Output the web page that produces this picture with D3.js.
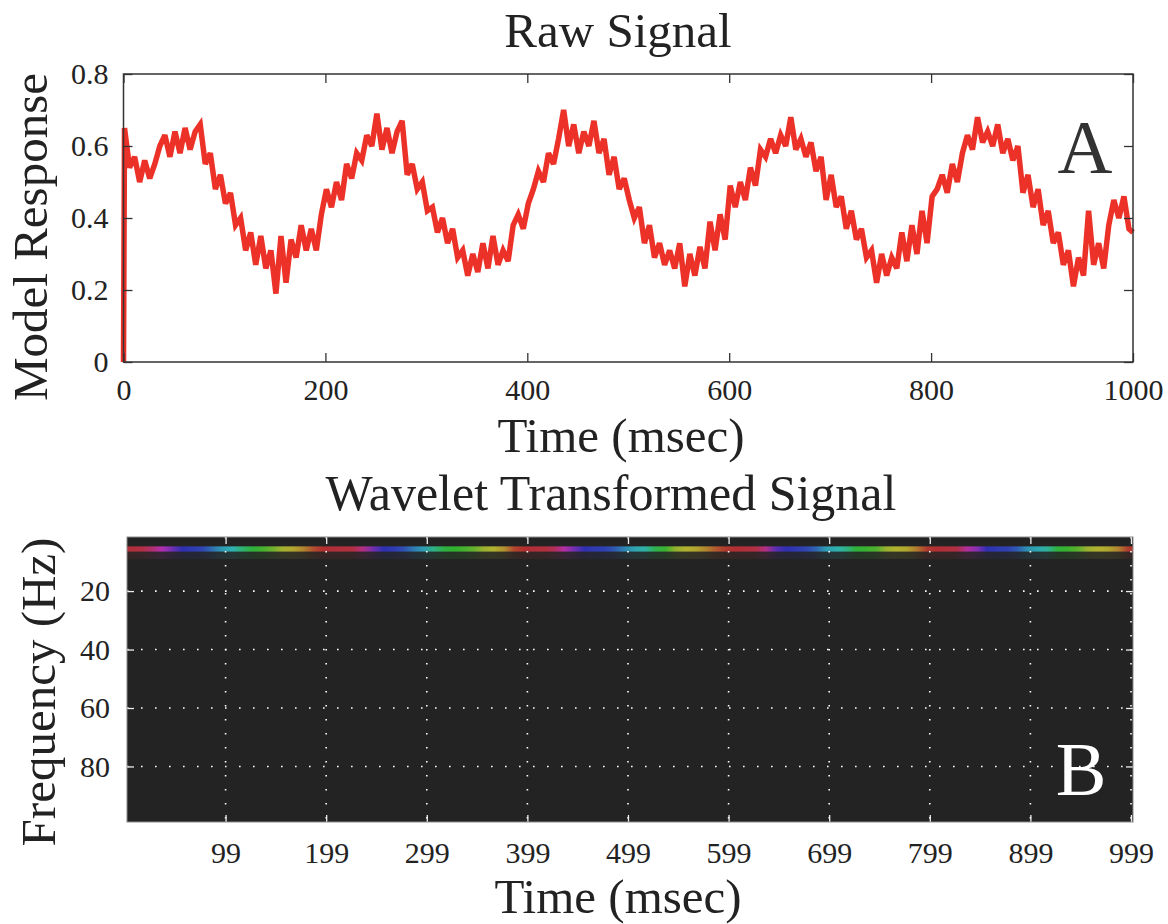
<!DOCTYPE html>
<html>
<head>
<meta charset="utf-8">
<script src="https://cdn.jsdelivr.net/npm/d3@7"></script>
<style>
  html, body { margin: 0; background: #fff; overflow: hidden; }
  svg { display: block; }
  text { font-family: "Liberation Serif", "Times New Roman", serif; fill: #222; }
</style>
</head>
<body>
<div class="chart"></div>
<script>
// tick labels
const rawTicksX = [0, 200, 400, 600, 800, 1000]
const rawTicksY = [0, 0.2, 0.4, 0.6, 0.8]
const waveTicksX = [99, 199, 299, 399, 499, 599, 699, 799, 899, 999]
const waveTicksY = [20, 40, 60, 80]

// raw signal: first point t=0, then every 5 ms from t=1, last t=1000
const responseStart = 0
const responseValues = [
  0.65,0.54,0.57,0.50,0.56,0.51,0.55,0.60,0.63,0.57,0.64,0.58,0.65,0.59,0.64,0.66,0.55,0.58,0.48,0.52,
  0.44,0.47,0.38,0.40,0.31,0.36,0.27,0.35,0.26,0.31,0.19,0.35,0.22,0.34,0.29,0.38,0.31,0.37,0.31,0.41,
  0.48,0.43,0.50,0.45,0.55,0.51,0.58,0.56,0.63,0.60,0.69,0.59,0.65,0.58,0.64,0.67,0.52,0.55,0.48,0.50,
  0.42,0.43,0.36,0.40,0.33,0.37,0.29,0.31,0.24,0.30,0.25,0.33,0.26,0.35,0.27,0.31,0.28,0.38,0.41,0.37,
  0.44,0.48,0.53,0.50,0.58,0.55,0.62,0.70,0.60,0.66,0.58,0.64,0.60,0.67,0.58,0.62,0.52,0.57,0.48,0.51,
  0.45,0.40,0.43,0.33,0.38,0.29,0.33,0.27,0.31,0.26,0.33,0.21,0.30,0.24,0.32,0.26,0.39,0.31,0.41,0.34,
  0.49,0.43,0.50,0.45,0.54,0.49,0.59,0.57,0.62,0.58,0.63,0.60,0.68,0.59,0.62,0.57,0.61,0.53,0.57,0.45,
  0.52,0.43,0.46,0.37,0.42,0.34,0.37,0.29,0.31,0.22,0.30,0.24,0.29,0.26,0.36,0.28,0.38,0.30,0.42,0.33,
  0.46,0.48,0.52,0.47,0.55,0.50,0.58,0.63,0.59,0.68,0.61,0.64,0.60,0.66,0.58,0.62,0.56,0.60,0.47,0.52,
  0.43,0.48,0.38,0.42,0.33,0.36,0.27,0.31,0.21,0.29,0.24,0.42,0.27,0.33,0.26,0.38,0.45,0.40,0.46,0.37
]
const responseEnd = 0.36

// wavelet band at ~5 Hz: hue of the phase colour per 10 ms bin (bins start at t=1)
const bandFreqHz = 5
const phaseHue = [
  355,350,330,300,270,240,235,230,210,190,180,150,125,110, 90, 65, 55, 40, 15,360,
  355,355,350,320,270,240,235,225,205,190,160,130,120,110, 95, 70, 60, 45, 10,360,
  355,355,340,305,270,240,235,232,220,200,185,175,135,115, 75, 60, 55, 40, 20,  5,
  358,355,350,320,260,240,235,230,215,190,180,160,125,115,105, 70, 60, 55, 35,  5,
  358,355,350,310,280,240,235,232,220,195,185,170,125,115,100, 70, 60, 55, 40,  5
]

const width = 1168
const height = 924

const svg = d3.select('.chart').append('svg')
    .attr('width', width)
    .attr('height', height)

svg.append('rect')
    .attr('width', width)
    .attr('height', height)
    .attr('fill', '#fff')

// ---------- A: raw signal ----------
const x = d3.scaleLinear().domain([0, 1000]).range([123.5, 1133])
const y = d3.scaleLinear().domain([0, 0.8]).range([362, 74])

const times = [0].concat(d3.range(1, 1000, 5), [1000])
const values = [responseStart].concat(responseValues, [responseEnd])
const signal = times.map((t, i) => ({t: t, v: values[i]}))

const gA = svg.append('g')

gA.append('path')
    .datum(signal)
    .attr('fill', 'none')
    .attr('stroke', '#ec3228')
    .attr('stroke-width', 5.5)
    .attr('stroke-linejoin', 'miter')
    .attr('stroke-miterlimit', 3)
    .attr('d', d3.line().x(d => x(d.t)).y(d => y(d.v)))

function styleAxis(g, color, size) {
    g.attr('font-family', null)
    g.select('.domain').remove()
    g.selectAll('line').attr('stroke', color).attr('stroke-width', 1.3)
    g.selectAll('text').attr('font-size', size).attr('fill', '#222')
        .style('font-family', '"Liberation Serif", serif')
}

// frame ticks without labels: drop the empty text nodes
function ticksOnly(g, color) {
    styleAxis(g, color, 30)
    g.selectAll('text').remove()
}

gA.append('g')
    .attr('transform', 'translate(0,362)')
    .call(d3.axisBottom(x).tickValues(rawTicksX).tickFormat(d => String(d))
        .tickSizeInner(-9).tickSizeOuter(0).tickPadding(17))
    .call(g => styleAxis(g, '#333', 30))
gA.append('g')
    .attr('transform', 'translate(0,74)')
    .call(d3.axisTop(x).tickValues(rawTicksX).tickSizeInner(-9).tickSizeOuter(0))
    .call(g => ticksOnly(g, '#333'))
gA.append('g')
    .attr('transform', 'translate(123.5,0)')
    .call(d3.axisLeft(y).tickValues(rawTicksY).tickFormat(d => String(d))
        .tickSizeInner(-9).tickSizeOuter(0).tickPadding(15))
    .call(g => styleAxis(g, '#333', 30))
gA.append('g')
    .attr('transform', 'translate(1133,0)')
    .call(d3.axisRight(y).tickValues(rawTicksY).tickSizeInner(-9).tickSizeOuter(0))
    .call(g => ticksOnly(g, '#333'))

gA.append('rect')
    .attr('x', 123.5).attr('y', 74)
    .attr('width', 1133 - 123.5).attr('height', 362 - 74)
    .attr('fill', 'none')
    .attr('stroke', '#333')
    .attr('stroke-width', 1.5)

gA.append('text')
    .attr('x', 1085).attr('y', 173)
    .attr('text-anchor', 'middle')
    .attr('font-size', 76)
    .style('fill', '#333')
    .text('A')

svg.append('text').attr('x', 618).attr('y', 47)
    .attr('text-anchor', 'middle').attr('font-size', 49).text('Raw Signal')
svg.append('text').attr('x', 621).attr('y', 452)
    .attr('text-anchor', 'middle').attr('font-size', 49).text('Time (msec)')
svg.append('text')
    .attr('transform', 'translate(47,237) rotate(-90)')
    .attr('text-anchor', 'middle').attr('font-size', 49).text('Model Response')

// ---------- B: wavelet transformed signal ----------
const xb = d3.scaleLinear().domain([1, 1001]).range([127, 1133])
const yb = d3.scaleLinear().domain([1.5, 99]).range([537, 822])

const gB = svg.append('g')

gB.append('rect')
    .attr('x', xb(1)).attr('y', yb(1.5))
    .attr('width', xb(1001) - xb(1)).attr('height', yb(99) - yb(1.5))
    .attr('fill', '#232323')

const bins = phaseHue.map((h, i) => ({t: 6 + i * 10, hue: h}))
const phaseColor = h => d3.hsl(h % 360, 0.58, 0.44).toString()

// smooth phase colouring along time, one gradient stop per bin
const grad = svg.append('defs').append('linearGradient')
    .attr('id', 'phase')
    .attr('gradientUnits', 'userSpaceOnUse')
    .attr('x1', xb(1)).attr('x2', xb(1001))
    .attr('y1', 0).attr('y2', 0)
grad.selectAll('stop')
    .data(bins)
    .join('stop')
    .attr('offset', d => (xb(d.t) - xb(1)) / (xb(1001) - xb(1)))
    .attr('stop-color', d => phaseColor(d.hue))

// faint smear under the band
gB.append('rect')
    .attr('x', xb(1)).attr('width', xb(1001) - xb(1))
    .attr('y', yb(bandFreqHz + 1.5)).attr('height', yb(bandFreqHz + 4) - yb(bandFreqHz + 1.5))
    .attr('fill', 'url(#phase)')
    .attr('opacity', 0.13)

gB.append('rect')
    .attr('x', xb(1)).attr('width', xb(1001) - xb(1))
    .attr('y', yb(bandFreqHz - 0.3)).attr('height', yb(bandFreqHz + 1.5) - yb(bandFreqHz - 0.3))
    .attr('fill', 'url(#phase)')

// dotted grid
gB.selectAll('.vgrid')
    .data(waveTicksX)
    .join('line')
    .attr('class', 'vgrid')
    .attr('x1', d => xb(d)).attr('x2', d => xb(d))
    .attr('y1', yb(1.5)).attr('y2', yb(99))
    .attr('stroke', '#fff').attr('stroke-width', 1.6)
    .attr('stroke-dasharray', '1.6,12.4')
gB.selectAll('.hgrid')
    .data(waveTicksY)
    .join('line')
    .attr('class', 'hgrid')
    .attr('x1', xb(1)).attr('x2', xb(1001))
    .attr('y1', d => yb(d)).attr('y2', d => yb(d))
    .attr('stroke', '#fff').attr('stroke-width', 1.6)
    .attr('stroke-dasharray', '1.6,12.4')

gB.append('g')
    .attr('transform', 'translate(0,822)')
    .call(d3.axisBottom(xb).tickValues(waveTicksX).tickFormat(d => String(d))
        .tickSizeInner(-7).tickSizeOuter(0).tickPadding(20))
    .call(g => styleAxis(g, '#eee', 30))
gB.append('g')
    .attr('transform', 'translate(0,537)')
    .call(d3.axisTop(xb).tickValues(waveTicksX).tickSizeInner(-7).tickSizeOuter(0))
    .call(g => ticksOnly(g, '#eee'))
gB.append('g')
    .attr('transform', 'translate(127,0)')
    .call(d3.axisLeft(yb).tickValues(waveTicksY).tickFormat(d => String(d))
        .tickSizeInner(-7).tickSizeOuter(0).tickPadding(17))
    .call(g => styleAxis(g, '#eee', 30))
gB.append('g')
    .attr('transform', 'translate(1133,0)')
    .call(d3.axisRight(yb).tickValues(waveTicksY).tickSizeInner(-7).tickSizeOuter(0))
    .call(g => ticksOnly(g, '#eee'))

gB.append('rect')
    .attr('x', 127).attr('y', 537)
    .attr('width', 1133 - 127).attr('height', 822 - 537)
    .attr('fill', 'none')
    .attr('stroke', '#8a8a8a')
    .attr('stroke-width', 1)

gB.append('text')
    .attr('x', 1081).attr('y', 795)
    .attr('text-anchor', 'middle')
    .attr('font-size', 76)
    .style('fill', '#fff')
    .text('B')

svg.append('text').attr('x', 611).attr('y', 510)
    .attr('text-anchor', 'middle').attr('font-size', 50).text('Wavelet Transformed Signal')
svg.append('text').attr('x', 618).attr('y', 913)
    .attr('text-anchor', 'middle').attr('font-size', 49).text('Time (msec)')
svg.append('text')
    .attr('transform', 'translate(55,692) rotate(-90)')
    .attr('text-anchor', 'middle').attr('font-size', 49).text('Frequency (Hz)')
</script>
</body>
</html>
